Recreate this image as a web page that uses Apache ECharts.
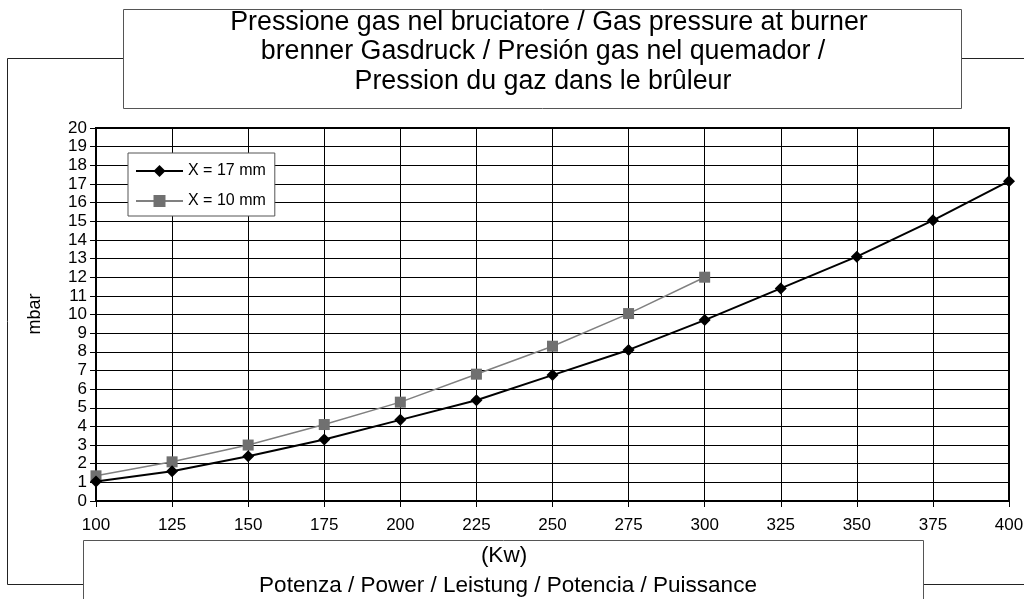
<!DOCTYPE html>
<html>
<head>
<meta charset="utf-8">
<style>
html,body{margin:0;padding:0;background:#fff;}
#chart{width:1024px;height:599px;}
</style>
<script src="https://cdn.jsdelivr.net/npm/echarts@6/dist/echarts.min.js"></script>
</head>
<body>
<div id="chart"></div>
<script>
// ---- data ----
const powerKw = [100, 125, 150, 175, 200, 225, 250, 275, 300, 325, 350, 375, 400];
const pressure17mm = [1.05, 1.6, 2.4, 3.3, 4.35, 5.4, 6.75, 8.1, 9.7, 11.4, 13.1, 15.05, 17.15];
const pressure10mm = [1.35, 2.1, 3.0, 4.1, 5.3, 6.8, 8.3, 10.05, 12.0];
const seriesNames = ['X = 17 mm', 'X = 10 mm'];
const titleLines = [
  'Pressione gas nel bruciatore / Gas pressure at burner',
  'brenner Gasdruck / Presión gas nel quemador /',
  'Pression du gaz dans le brûleur'
];
const xUnitLabel = '(Kw)';
const xAxisTitle = 'Potenza / Power / Leistung / Potencia / Puissance';
const yAxisTitle = 'mbar';

const FONT = '"Liberation Sans", Arial, sans-serif';
const chart = echarts.init(document.getElementById('chart'), null, {renderer: 'canvas'});

const pairs = (xs, ys) => ys.map((v, i) => [xs[i], v]);

chart.setOption({
  animation: false,
  backgroundColor: '#fff',
  textStyle: {fontFamily: FONT},
  grid: {
    left: 96, top: 128, right: 15, bottom: 98,
    show: true, borderColor: '#000', borderWidth: 2,
    outerBoundsMode: 'none'
  },
  xAxis: {
    type: 'value', min: 100, max: 400, interval: 25,
    axisLine: {show: true, lineStyle: {color: '#000', width: 2}},
    axisTick: {show: true, inside: false, length: 6, lineStyle: {color: '#000', width: 1}},
    axisLabel: {color: '#000', fontSize: 17, fontFamily: FONT, margin: 16},
    splitLine: {show: true, lineStyle: {color: '#000', width: 1}}
  },
  yAxis: {
    type: 'value', min: 0, max: 20, interval: 1,
    axisLine: {show: true, lineStyle: {color: '#000', width: 2}},
    axisTick: {show: true, inside: false, length: 6, lineStyle: {color: '#000', width: 1}},
    axisLabel: {color: '#000', fontSize: 17, fontFamily: FONT, margin: 9},
    splitLine: {show: true, lineStyle: {color: '#000', width: 1}}
  },
  legend: {
    orient: 'vertical', left: 128, top: 153,
    backgroundColor: '#fff', borderColor: '#555', borderWidth: 1,
    padding: [9, 9, 6, 7],
    itemWidth: 47, itemHeight: 15, itemGap: 12,
    textStyle: {color: '#000', fontSize: 16, fontFamily: FONT, lineHeight: 18},
    data: seriesNames
  },
  series: [
    {
      name: seriesNames[0], type: 'line', data: pairs(powerKw, pressure17mm),
      symbol: 'diamond', symbolSize: 12, showAllSymbol: true,
      lineStyle: {color: '#000', width: 2},
      itemStyle: {color: '#000'}, z: 3
    },
    {
      name: seriesNames[1], type: 'line', data: pairs(powerKw, pressure10mm),
      symbol: 'rect', symbolSize: 11, showAllSymbol: true,
      lineStyle: {color: '#808080', width: 1.5},
      itemStyle: {color: '#707070'}, z: 2
    }
  ],
  graphic: [
    // outer frame
    {type: 'rect', z: -10, silent: true, shape: {x: 7.5, y: 58.5, width: 1030, height: 526},
     style: {fill: 'none', stroke: '#222', lineWidth: 1}},
    // title box
    {type: 'rect', z: -5, silent: true, shape: {x: 123.5, y: 9.5, width: 838, height: 99},
     style: {fill: '#fff', stroke: '#555', lineWidth: 1}},
    // bottom box
    {type: 'rect', z: -5, silent: true, shape: {x: 83.5, y: 540.5, width: 840, height: 80},
     style: {fill: '#fff', stroke: '#555', lineWidth: 1}},
    {type: 'text', z: 10, silent: true, x: 549, y: 23,
     style: {text: titleLines[0], font: '26.8px ' + FONT, fill: '#000', textAlign: 'center', textVerticalAlign: 'middle'}},
    {type: 'text', z: 10, silent: true, x: 543, y: 52,
     style: {text: titleLines[1], font: '26.8px ' + FONT, fill: '#000', textAlign: 'center', textVerticalAlign: 'middle'}},
    {type: 'text', z: 10, silent: true, x: 543, y: 82,
     style: {text: titleLines[2], font: '26.8px ' + FONT, fill: '#000', textAlign: 'center', textVerticalAlign: 'middle'}},
    {type: 'text', z: 10, silent: true, x: 504, y: 556,
     style: {text: xUnitLabel, font: '22.5px ' + FONT, fill: '#000', textAlign: 'center', textVerticalAlign: 'middle'}},
    {type: 'text', z: 10, silent: true, x: 508, y: 586,
     style: {text: xAxisTitle, font: '22.5px ' + FONT, fill: '#000', textAlign: 'center', textVerticalAlign: 'middle'}},
    {type: 'text', z: 10, silent: true, x: 35, y: 314, rotation: Math.PI / 2,
     style: {text: yAxisTitle, font: '18px ' + FONT, fill: '#000', textAlign: 'center', textVerticalAlign: 'middle'}}
  ]
});
</script>
</body>
</html>
